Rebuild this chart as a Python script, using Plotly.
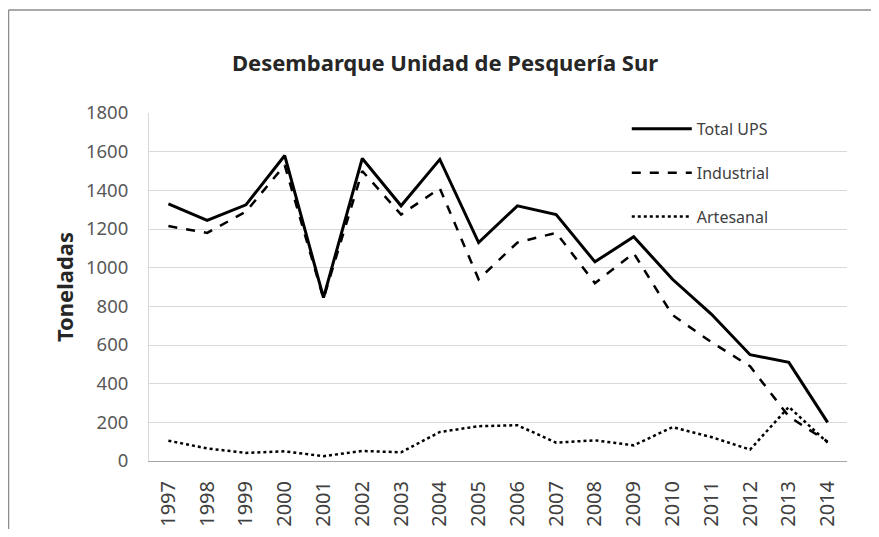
import plotly.graph_objects as go

years = [str(y) for y in range(1997, 2015)]
total_ups = [1330, 1245, 1325, 1580, 845, 1565, 1320, 1560, 1130, 1320, 1275, 1030, 1160, 940, 760, 550, 510, 200]
industrial = [1215, 1180, 1290, 1530, 840, 1500, 1275, 1410, 940, 1130, 1180, 920, 1075, 755, 615, 490, 230, 100]
artesanal = [105, 65, 42, 50, 25, 52, 45, 150, 180, 185, 95, 107, 81, 175, 124, 59, 280, 95]
y_ticks = [0, 200, 400, 600, 800, 1000, 1200, 1400, 1600, 1800]

fig = go.Figure()
fig.add_trace(go.Scatter(x=years, y=total_ups, name="Total UPS", mode="lines",
                         line=dict(color="black", width=3), legendgroup="a"))
fig.add_trace(go.Scatter(x=years, y=industrial, name="Industrial", mode="lines",
                         line=dict(color="black", width=2.5, dash="dash"), legendgroup="b"))
fig.add_trace(go.Scatter(x=years, y=artesanal, name="Artesanal", mode="lines",
                         line=dict(color="black", width=2.5, dash="dot"), legendgroup="c"))

border = dict(color="#8c8c8c", width=1.5)

fig.update_layout(
    width=863, height=521,
    margin=dict(l=141, r=24, t=105, b=68),
    paper_bgcolor="white", plot_bgcolor="white",
    font=dict(family="Noto Sans", size=18, color="#595959"),
    title=dict(text="<b>Desembarque Unidad de Pesquería Sur</b>",
               x=437 / 863, xanchor="center", xref="container",
               y=1 - 55 / 521, yanchor="middle",
               font=dict(family="Noto Sans", size=22, color="#262626")),
    xaxis=dict(type="category", tickangle=-90, showgrid=False,
               showline=True, linecolor="#a6a6a6", linewidth=1,
               ticks="", ticklabelstandoff=11, automargin=False,
               tickfont=dict(size=20, color="#404040"),
               range=[-0.5, 17.5]),
    yaxis=dict(range=[0, 1800], tickvals=y_ticks, showgrid=True,
               gridcolor="#d9d9d9", gridwidth=1, zeroline=False,
               showline=True, linecolor="#d9d9d9", linewidth=1,
               ticks="", ticklabelstandoff=16,
               tickfont=dict(size=18.5, color="#595959"),
               title=dict(text="<b>Toneladas</b>", standoff=6,
                          font=dict(size=22, color="#262626"))),
    legend=dict(x=0.6845, y=1.003, xanchor="left", yanchor="top",
                bgcolor="rgba(0,0,0,0)", tracegroupgap=20,
                font=dict(size=16, color="#404040"), itemwidth=60),
    showlegend=True,
    shapes=[
        dict(type="line", xref="paper", yref="paper",
             x0=-0.2013, x1=1.3, y0=1.296, y1=1.296, line=border, layer="below"),
        dict(type="line", xref="paper", yref="paper",
             x0=-0.2013, x1=-0.2013, y0=-0.4, y1=1.296, line=border, layer="below"),
    ],
)

fig.write_html("out.html")
